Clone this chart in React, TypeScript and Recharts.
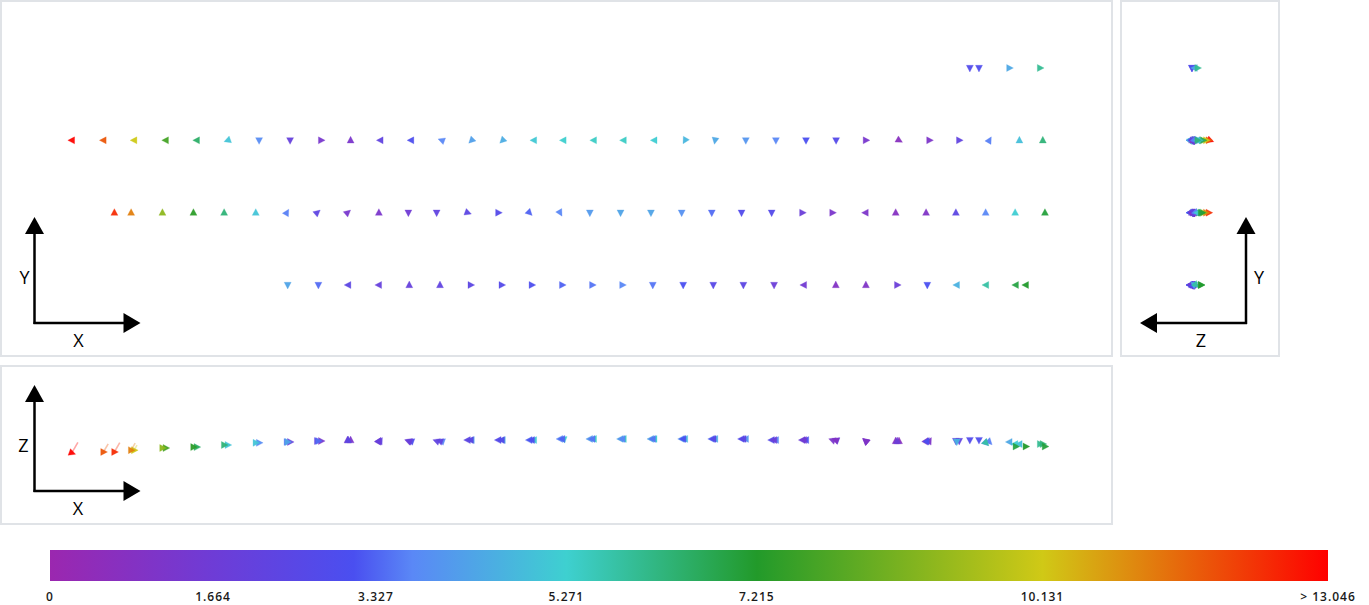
import React from 'react';
import { ScatterChart, Scatter, XAxis, YAxis, BarChart, Bar } from 'recharts';

// Node rows of the model. X, Z in model units, Y is the row height.
const rowY = [72, 48, 24, 0];

const row0X = [295.7, 298.7, 308.7, 318.8];
const row0V = [2.8, 2.9, 4.4, 6.0];
const row0Dir = [90, 90, 0, 0];
const row0Z = [2.1, 2.1, 1.5, 0.8];
const row0DirXZ = [90, 90, 180, 0];

const row1X = [0.3, 10.7, 20.8, 31.2, 41.4, 51.6, 61.9, 72.1, 82.3, 92.0, 101.8, 111.9, 122.0, 131.8, 142.0, 152.3, 162.0, 172.0, 181.8, 191.9, 202.0, 211.9, 222.0, 231.9, 241.8, 251.7, 261.5, 272.4, 282.4, 292.2, 302.1, 312.0, 319.7];
const row1V = [13.0, 11.8, 10.1, 7.8, 6.5, 5.0, 3.8, 2.0, 1.3, 1.2, 2.2, 3.0, 3.7, 4.2, 4.5, 5.1, 5.3, 5.4, 5.4, 5.2, 4.7, 4.4, 4.0, 3.7, 3.1, 2.7, 1.3, 0.7, 1.1, 2.2, 3.6, 4.9, 6.3];
const row1Dir = [180, 180, 180, 180, 180, 160, 90, 90, 0, 270, 180, 180, 200, 135, 135, 180, 180, 180, 180, 180, 120, 100, 90, 90, 90, 90, 0, 30, 0, 0, 300, 270, 270];
const row1Z = [-2.1, -1.8, -1.2, -0.5, -0.2, 0.5, 1.2, 1.5, 1.8, 2.1, 1.8, 1.8, 1.8, 2.1, 2.1, 2.1, 2.5, 2.5, 2.5, 2.5, 2.5, 2.5, 2.5, 2.1, 2.1, 2.1, 1.8, 1.8, 1.8, 1.8, 1.5, 0.8, 0.8];
const row1DirXZ = [20, 0, 0, 0, 0, 0, 0, 0, 0, 270, 300, 200, 200, 180, 180, 180, 200, 180, 180, 180, 180, 180, 180, 180, 180, 200, 220, 270, 300, 90, 45, 180, 0];

const row2X = [14.3, 19.8, 30.1, 40.3, 50.4, 60.8, 71.0, 81.0, 91.0, 101.3, 111.0, 120.3, 130.5, 140.6, 150.8, 160.9, 170.7, 180.8, 190.8, 200.9, 210.8, 220.6, 230.5, 240.6, 250.5, 261.4, 271.3, 281.3, 291.1, 300.9, 310.6, 320.4];
const row2V = [12.4, 11.2, 9.0, 7.4, 6.3, 5.0, 3.6, 2.3, 1.3, 1.2, 1.6, 2.2, 2.4, 2.7, 3.3, 3.7, 4.1, 4.3, 4.3, 3.9, 3.4, 2.8, 2.7, 1.8, 1.2, 1.1, 0.8, 1.0, 2.4, 3.7, 5.2, 7.0];
const row2Dir = [270, 270, 270, 270, 270, 270, 300, 320, 320, 270, 90, 90, 20, 0, 45, 60, 90, 90, 90, 90, 90, 90, 90, 0, 0, 180, 270, 270, 270, 270, 270, 270];
const row2Z = [-1.8, -1.2, -0.5, -0.2, 0.5, 1.2, 1.5, 1.8, 2.1, 1.8, 1.8, 1.8, 2.1, 2.1, 2.1, 2.5, 2.5, 2.5, 2.5, 2.5, 2.5, 2.5, 2.1, 2.1, 2.1, 1.8, 1.8, 1.8, 1.8, 1.2, 0.8, 0.0];
const row2DirXZ = [0, 0, 0, 0, 0, 0, 0, 0, 270, 300, 200, 200, 180, 180, 180, 180, 180, 180, 180, 180, 180, 180, 180, 180, 200, 220, 270, 300, 90, 45, 180, 0];

const row3X = [71.3, 81.4, 91.2, 101.3, 111.3, 121.4, 131.5, 141.7, 151.6, 161.6, 171.5, 181.4, 191.4, 201.4, 211.3, 221.2, 231.3, 241.1, 251.6, 261.5, 271.8, 281.7, 291.4, 301.0, 310.8, 314.1];
const row3V = [4.3, 3.4, 2.4, 2.0, 2.0, 2.2, 2.4, 2.7, 3.0, 3.3, 3.5, 3.7, 3.5, 3.1, 2.6, 2.4, 1.8, 1.5, 0.9, 1.0, 1.8, 3.1, 4.6, 5.8, 6.9, 7.2];
const row3Dir = [90, 90, 180, 180, 270, 270, 0, 0, 0, 0, 0, 0, 90, 90, 90, 90, 90, 180, 270, 270, 0, 90, 180, 180, 180, 180];
const row3Z = [1.5, 1.8, 2.1, 1.8, 1.8, 1.8, 2.1, 2.1, 2.1, 2.5, 2.5, 2.5, 2.5, 2.5, 2.5, 2.5, 2.1, 2.1, 2.1, 1.8, 1.8, 1.8, 1.6, 1.2, 0.0, 0.0];
const row3DirXZ = [0, 0, 270, 300, 200, 200, 180, 180, 180, 180, 180, 180, 180, 180, 180, 180, 180, 180, 200, 220, 270, 300, 90, 45, 0, 0];

// colour scale (magnitude)
const scaleTicks = [0, 1.664, 3.327, 5.271, 7.215, 10.131, 13.046];
const scaleMax = 13.046;
const scaleStops: [number, string][] = [
  [0, '#9b27af'],
  [1.664, '#6e3cd6'],
  [3.1, '#4a4ff0'],
  [3.7, '#5a88f6'],
  [5.271, '#3ed0d0'],
  [7.215, '#229a2a'],
  [10.131, '#d0c916'],
  [13.046, '#ff0000'],
];
const scaleRow = [{ name: 'magnitude', max: scaleMax }];

const FONT = "'Open Sans', 'DejaVu Sans', sans-serif";

const hex = (c: string) => [1, 3, 5].map((i) => parseInt(c.slice(i, i + 2), 16));

function valueColor(v: number) {
  if (v <= scaleStops[0][0]) return scaleStops[0][1];
  for (let i = 1; i < scaleStops.length; i++) {
    const [v1, c1] = scaleStops[i];
    if (v <= v1) {
      const [v0, c0] = scaleStops[i - 1];
      const t = (v - v0) / (v1 - v0);
      const a = hex(c0), b = hex(c1);
      const m = a.map((x, k) => Math.round(x + (b[k] - x) * t));
      return `rgb(${m[0]},${m[1]},${m[2]})`;
    }
  }
  return scaleStops[scaleStops.length - 1][1];
}

const rows = [
  { y: rowY[0], xs: row0X, vs: row0V, dirs: row0Dir, zs: row0Z, dirsXZ: row0DirXZ },
  { y: rowY[1], xs: row1X, vs: row1V, dirs: row1Dir, zs: row1Z, dirsXZ: row1DirXZ },
  { y: rowY[2], xs: row2X, vs: row2V, dirs: row2Dir, zs: row2Z, dirsXZ: row2DirXZ },
  { y: rowY[3], xs: row3X, vs: row3V, dirs: row3Dir, zs: row3Z, dirsXZ: row3DirXZ },
];

const nodes = rows.flatMap((r) =>
  r.xs.map((x, i) => ({ x, y: r.y, z: r.zs[i], v: r.vs[i], dir: r.dirs[i], dirXZ: r.dirsXZ[i] }))
);

// small cone glyph, rotated to the displacement direction
const Cone = (props: any) => {
  const { cx, cy, payload, angleKey, tail } = props;
  if (cx == null || cy == null) return null;
  const a = (payload[angleKey] * Math.PI) / 180;
  const c = Math.cos(a);
  const s = Math.sin(a);
  const pt = (f: number, w: number) => `${cx + c * f - s * w},${cy + s * f + c * w}`;
  const fill = valueColor(payload.v);
  const len = tail && payload.v > 8 ? (payload.v - 7.5) * 2.2 : 0;
  const ta = (-60 * Math.PI) / 180;
  return (
    <g>
      {len > 0 && (
        <line
          x1={cx}
          y1={cy}
          x2={cx + Math.cos(ta) * len}
          y2={cy + Math.sin(ta) * len}
          stroke={fill}
          strokeOpacity={0.35}
          strokeWidth={1.6}
        />
      )}
      <polygon
        points={[pt(4, 0), pt(-2.7, 3.5), pt(-2.7, -3.5)].join(' ')}
        fill={fill}
        fillOpacity={0.95}
        stroke={fill}
        strokeOpacity={0.35}
        strokeWidth={0.8}
        strokeLinejoin="round"
      />
    </g>
  );
};

const panelBorder = (left: number, top: number, width: number, height: number): React.CSSProperties => ({
  position: 'absolute',
  left,
  top,
  width,
  height,
  border: '2px solid #e0e3e7',
  boxSizing: 'border-box',
});

type GlyphProps = { ox: number; oy: number; left?: boolean; vLabel: string; hLabel: string; vLabelX: number; hLabelX: number };

// axis triad drawn in the corner of each view
const AxisGlyph = ({ ox, oy, left, vLabel, hLabel, vLabelX, hLabelX }: GlyphProps) => {
  const dir = left ? -1 : 1;
  const tipX = ox + dir * 106;
  const baseX = ox + dir * 89;
  return (
    <svg width={1369} height={605} style={{ position: 'absolute', left: 0, top: 0, pointerEvents: 'none' }}>
      <line x1={ox} y1={oy + 1} x2={ox} y2={oy - 92} stroke="#000" strokeWidth={2.5} />
      <polygon points={`${ox},${oy - 106} ${ox - 9.5},${oy - 89} ${ox + 9.5},${oy - 89}`} fill="#000" />
      <line x1={ox - dir} y1={oy} x2={baseX + dir * 2} y2={oy} stroke="#000" strokeWidth={2.5} />
      <polygon points={`${tipX},${oy} ${baseX},${oy - 10} ${baseX},${oy + 10}`} fill="#000" />
      <text x={vLabelX} y={oy - 46} textAnchor="middle" dominantBaseline="central" fontSize={18} fontFamily={FONT} fill="#000">
        {vLabel}
      </text>
      <text x={hLabelX} y={oy + 17} textAnchor="middle" dominantBaseline="central" fontSize={18} fontFamily={FONT} fill="#000">
        {hLabel}
      </text>
    </svg>
  );
};

const margin0 = { top: 0, right: 0, bottom: 0, left: 0 };

export default function App() {
  return (
    <div style={{ position: 'absolute', left: 0, top: 0, width: 1369, height: 605, background: '#fff', fontFamily: FONT }}>
      <div style={panelBorder(0, 0, 1113, 357)} />
      <div style={panelBorder(1120, 0, 160, 357)} />
      <div style={panelBorder(0, 365, 1113, 160)} />

      {/* X-Y view */}
      <div style={{ position: 'absolute', left: 1, top: 1 }}>
        <ScatterChart width={1111} height={355} margin={margin0}>
          <XAxis type="number" dataKey="x" domain={[-23, 342.46]} hide allowDataOverflow />
          <YAxis type="number" dataKey="y" domain={[-23.56, 94.23]} hide allowDataOverflow />
          <Scatter data={nodes} isAnimationActive={false} shape={(p: any) => <Cone {...p} angleKey="dir" />} />
        </ScatterChart>
      </div>

      {/* Z-Y view */}
      <div style={{ position: 'absolute', left: 1121, top: 1 }}>
        <ScatterChart width={157} height={355} margin={margin0}>
          <XAxis type="number" dataKey="z" domain={[-17.9, 18.6]} reversed hide allowDataOverflow />
          <YAxis type="number" dataKey="y" domain={[-23.56, 94.23]} hide allowDataOverflow />
          <Scatter data={nodes} isAnimationActive={false} shape={(p: any) => <Cone {...p} angleKey="dirXZ" />} />
        </ScatterChart>
      </div>

      {/* X-Z view */}
      <div style={{ position: 'absolute', left: 1, top: 366 }}>
        <ScatterChart width={1111} height={157} margin={margin0}>
          <XAxis type="number" dataKey="x" domain={[-23, 342.46]} hide allowDataOverflow />
          <YAxis type="number" dataKey="z" domain={[-25.16, 26.48]} hide allowDataOverflow />
          <Scatter data={nodes} isAnimationActive={false} shape={(p: any) => <Cone {...p} angleKey="dirXZ" tail />} />
        </ScatterChart>
      </div>

      <AxisGlyph ox={34.5} oy={323} vLabel="Y" hLabel="X" vLabelX={24.5} hLabelX={78.5} />
      <AxisGlyph ox={34.5} oy={491} vLabel="Z" hLabel="X" vLabelX={23.5} hLabelX={78} />
      <AxisGlyph ox={1246} oy={323} left vLabel="Y" hLabel="Z" vLabelX={1259} hLabelX={1201} />

      {/* colour scale */}
      <div style={{ position: 'absolute', left: 0, top: 545 }}>
        <BarChart width={1369} height={60} data={scaleRow} layout="vertical" margin={{ top: 5, right: 41, bottom: 0, left: 50 }} barCategoryGap={0}>
          <defs>
            <linearGradient id="magScale" x1="0" y1="0" x2="1" y2="0">
              {scaleStops.map(([v, c]) => (
                <stop key={v} offset={v / scaleMax} stopColor={c} />
              ))}
            </linearGradient>
          </defs>
          <XAxis
            type="number"
            domain={[0, scaleMax]}
            ticks={scaleTicks}
            interval={0}
            axisLine={false}
            tickLine={false}
            tickSize={0}
            tickMargin={11}
            height={24}
            tick={{ fontSize: 12, fill: '#1a1a1a', fontFamily: FONT, fontWeight: 600, letterSpacing: 1 }}
            tickFormatter={(t: number) => (t === scaleMax ? `> ${t}` : `${t}`)}
          />
          <YAxis type="category" dataKey="name" hide />
          <Bar dataKey="max" fill="url(#magScale)" isAnimationActive={false} />
        </BarChart>
      </div>
    </div>
  );
}
